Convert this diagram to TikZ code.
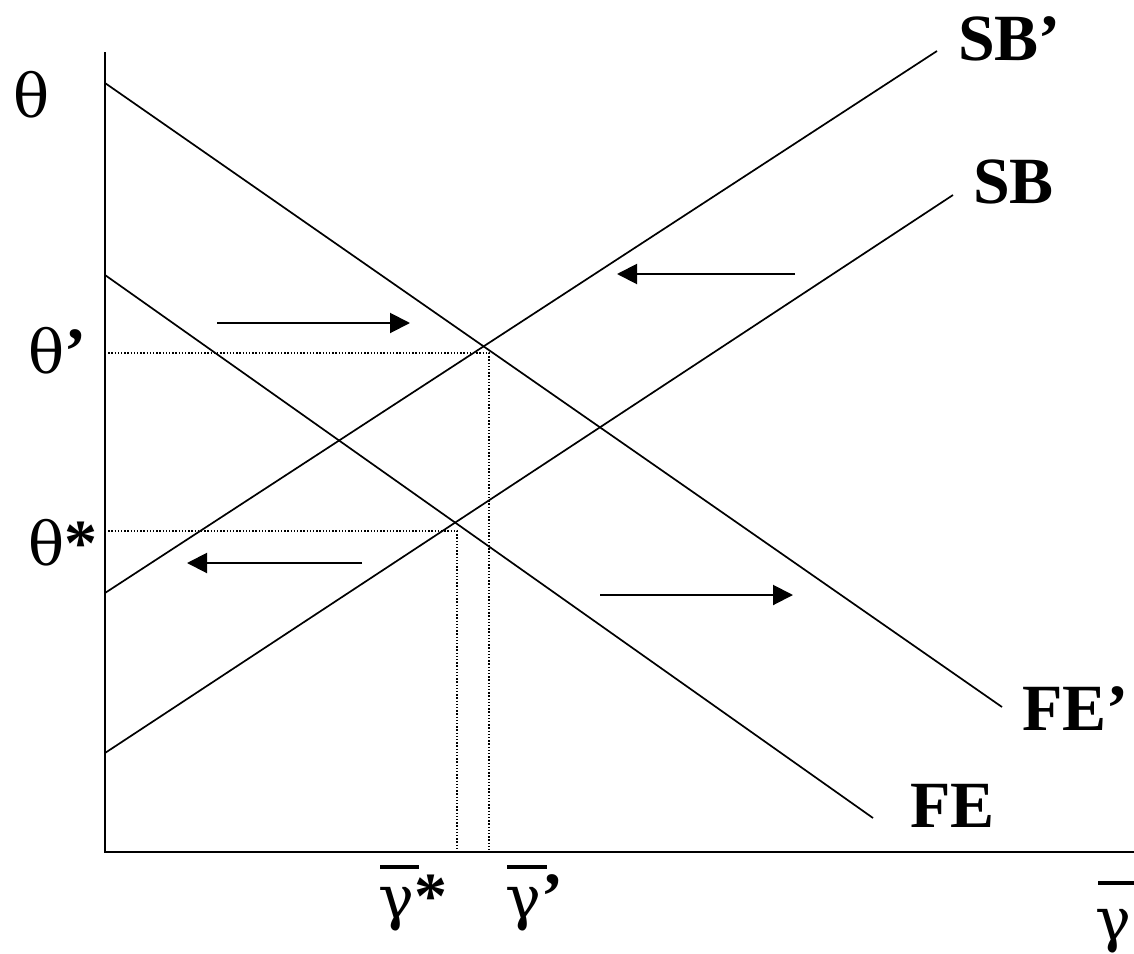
\documentclass[tikz,border=0pt]{standalone}
\usepackage{fontspec}
\setmainfont{Liberation Serif}
\newfontfamily\grk{DejaVu Serif}
\usetikzlibrary{arrows.meta,calc}
\begin{document}
\begin{tikzpicture}[x=1pt,y=-1pt,
  curve/.style={line width=1.7pt},
  axisline/.style={line width=2.8pt, line join=miter},
  guide/.style={line width=1.6pt, dash pattern=on 1.4pt off 1.8pt},
  flow/.style={line width=2pt,-{Triangle[length=20pt,width=20pt]}},
  lbl/.style={font=\fontsize{66}{70}\selectfont\bfseries, inner sep=0pt},
  sym/.style={font=\fontsize{60}{70}\selectfont\grk, inner sep=0pt},
  bar/.style={line width=4pt}]
\useasboundingbox (0,0) rectangle (1134,953);
% axes
\coordinate (O) at (105,852);
\coordinate (ytop) at (105,52);
\coordinate (xend) at (1134,852);
\draw[axisline] (ytop) -- (O) -- (xend);
% curves
\coordinate (fepS) at (105,83);   \coordinate (fepE) at (1002,707);
\coordinate (feS) at (105,275);   \coordinate (feE) at (873,818);
\coordinate (sbpS) at (105,593);  \coordinate (sbpE) at (937,51);
\coordinate (sbS) at (105,753);   \coordinate (sbE) at (953,195);
\draw[curve] (fepS) -- (fepE);
\draw[curve] (feS) -- (feE);
\draw[curve] (sbpS) -- (sbpE);
\draw[curve] (sbS) -- (sbE);
% guides
\coordinate (ya) at (105,353); \coordinate (pa) at (489,353); \coordinate (xa) at (489,852);
\coordinate (yb) at (105,531); \coordinate (pb) at (457,531); \coordinate (xb) at (457,852);
\draw[guide] (ya) -- (pa) -- (xa);
\draw[guide] (yb) -- (pb) -- (xb);
% flow arrows
\coordinate (a1s) at (217,323); \coordinate (a1e) at (410,323);
\coordinate (a2s) at (795,274); \coordinate (a2e) at (617,274);
\coordinate (a3s) at (362,563); \coordinate (a3e) at (187,563);
\coordinate (a4s) at (600,595); \coordinate (a4e) at (793,595);
\draw[flow] (a1s) -- (a1e);
\draw[flow] (a2s) -- (a2e);
\draw[flow] (a3s) -- (a3e);
\draw[flow] (a4s) -- (a4e);
% curve labels
\node[lbl, anchor=base west] (SBp) at (958,60) {SB’};
\node[lbl, anchor=base west] (SB) at (973,203) {SB};
\node[lbl, anchor=base west] (FEp) at (1022,730) {FE’};
\node[lbl, anchor=base west] (FE) at (910,827) {FE};
% axis labels
\node[sym, anchor=base west] (th) at (13,117) {θ};
\node[sym, anchor=base west] (thp) at (28,373) {θ{\fontsize{66}{70}\selectfont\rmfamily\bfseries ’}};
\node[sym, anchor=base west] (ths) at (28,565) {θ{\fontsize{66}{70}\selectfont\rmfamily\bfseries *}};
\node[sym, anchor=base west] (gs) at (378,918) {γ{\fontsize{66}{70}\selectfont\rmfamily\bfseries *}};
\node[sym, anchor=base west] (gp) at (505,918) {γ{\fontsize{66}{70}\selectfont\rmfamily\bfseries ’}};
\node[sym, anchor=base west] (g) at (1095,940) {γ};
\draw[bar] (380,867) -- (419,867);
\draw[bar] (507,867) -- (547,867);
\draw[bar] (1098,883) -- (1134,883);
\end{tikzpicture}
\end{document}
